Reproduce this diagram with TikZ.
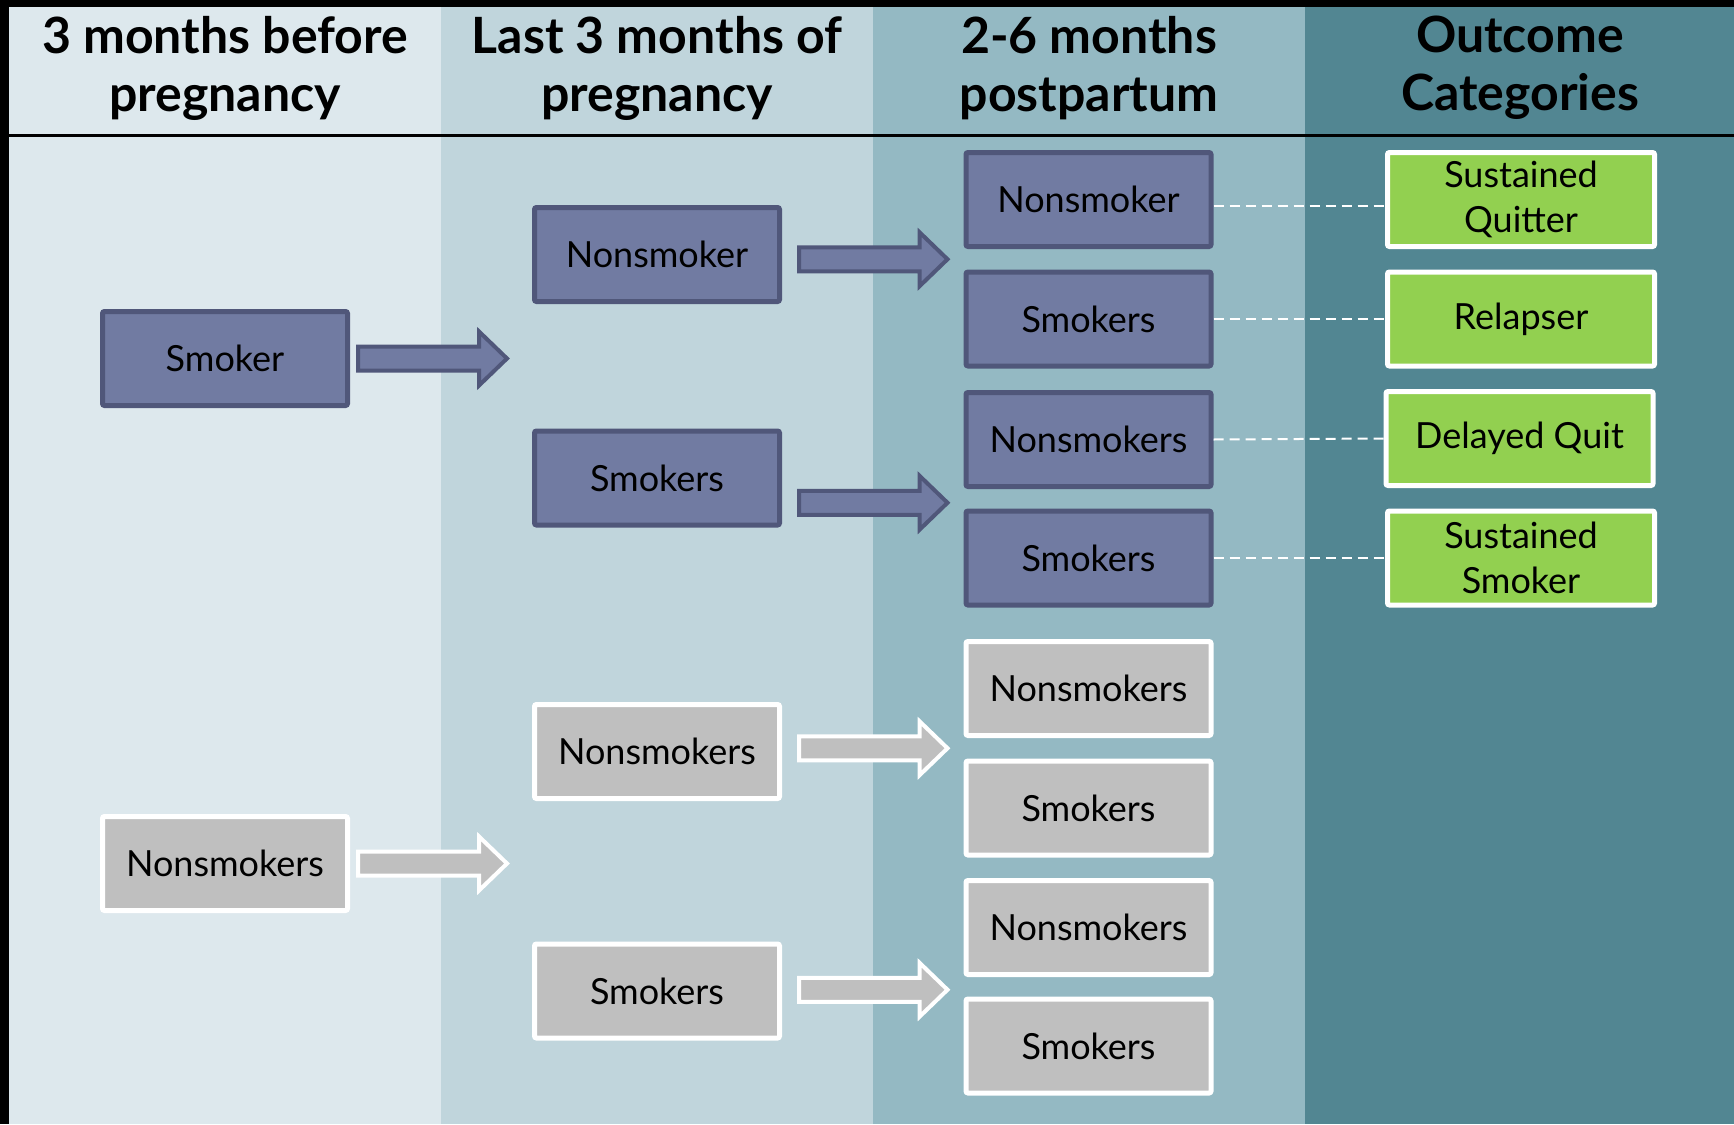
\documentclass[tikz,border=0pt]{standalone}
\usepackage{fontspec}
\setmainfont{Lato}
\usepackage{xcolor}
\usetikzlibrary{positioning,calc}

\definecolor{colone}{HTML}{DDE8ED}
\definecolor{coltwo}{HTML}{C0D5DC}
\definecolor{colthree}{HTML}{94B9C3}
\definecolor{colfour}{HTML}{528692}
\definecolor{darkfill}{HTML}{717BA2}
\definecolor{darkline}{HTML}{50577A}
\definecolor{greyfill}{HTML}{BFBFBF}
\definecolor{greenfill}{HTML}{92D050}

% block arrow from #2 to #3 (horizontal, height taken from #2)
\newcommand\fatarrow[3][darkarrow]{%
	\draw[#1] let \p1=#2, \p2=#3 in
		(\x1,\y1+12pt) -- (\x2-28pt,\y1+12pt) -- (\x2-28pt,\y1+27pt) -- (\x2,\y1)
		-- (\x2-28pt,\y1-27pt) -- (\x2-28pt,\y1-12pt) -- (\x1,\y1-12pt) -- cycle;}

\begin{document}
\begin{tikzpicture}[
		x=1pt, y=-1pt,
		headtext/.style={
			align=center,
			font=\fontsize{50}{58}\selectfont\bfseries
		},
		stagebox/.style={
			line width=5pt,
			rounded corners=2pt,
			align=center,
			minimum width=245pt,
			minimum height=94pt,
			inner sep=0pt,
			font=\fontsize{36}{45}\selectfont
		},
		smokerbox/.style={stagebox, draw=darkline, fill=darkfill},
		greybox/.style={stagebox, draw=white, fill=greyfill},
		outcomebox/.style={stagebox, draw=white, fill=greenfill, minimum width=267pt},
		darkarrow/.style={draw=darkline, fill=darkfill, line width=4pt, line join=miter},
		greyarrow/.style={draw=white, fill=greyfill, line width=4pt, line join=miter},
		dashline/.style={white, line width=2pt, dash pattern=on 10pt off 6pt}
	]
		\useasboundingbox (0,0) rectangle (1734,1124);

		% columns
		\fill[black] (0,0) rectangle (1734,1124);
		\fill[colone] (9,7) rectangle (441,1124);
		\fill[coltwo] (441,7) rectangle (873,1124);
		\fill[colthree] (873,7) rectangle (1305,1124);
		\fill[colfour] (1305,7) rectangle (1734,1124);
		\draw[black, line width=3pt] (9,135.5) -- (1734,135.5);

		\node[headtext] (headpre) at (225,68) {3 months before\\pregnancy};
		\node[headtext] (headlate) at (657,68) {Last 3 months of\\pregnancy};
		\node[headtext] (headpost) at (1089,68) {2-6 months\\postpartum};
		\node[headtext] (headout) at (1520,68) {Outcome\\Categories};

		% before pregnancy
		\node[smokerbox] (preSmoker) at (225,358.5) {Smoker};
		\node[greybox] (preNonsmoker) at (225,863.5) {Nonsmokers};

		% last 3 months
		\node[smokerbox] (lateNonsmoker) at (657,254.5) {Nonsmoker};
		\node[smokerbox] (lateSmoker) at (657,478) {Smokers};
		\node[greybox] (lateNonsmokerB) at (657,751.5) {Nonsmokers};
		\node[greybox] (lateSmokerB) at (657,991) {Smokers};

		% postpartum
		\node[smokerbox] (post1) at (1088.5,199.5) {Nonsmoker};
		\node[smokerbox] (post2) at (1088.5,319) {Smokers};
		\node[smokerbox] (post3) at (1088.5,439.5) {Nonsmokers};
		\node[smokerbox] (post4) at (1088.5,558) {Smokers};
		\node[greybox] (post5) at (1088.5,688.5) {Nonsmokers};
		\node[greybox] (post6) at (1088.5,808) {Smokers};
		\node[greybox] (post7) at (1088.5,927.5) {Nonsmokers};
		\node[greybox] (post8) at (1088.5,1046) {Smokers};

		% outcomes
		\node[outcomebox] (quitter) at (1521,199.5) {Sustained\\Quitter};
		\node[outcomebox] (relapser) at (1521,319) {Relapser};
		\node[outcomebox] (delayed) at (1519.5,438.5) {Delayed Quit};
		\node[outcomebox] (sustained) at (1521,558) {Sustained\\Smoker};

		\coordinate (gapA) at ($(post1.south west)!0.5!(post2.north west)$);
		\coordinate (gapB) at ($(post3.south west)!0.5!(post4.north west)+(0,4)$);
		\coordinate (gapC) at ($(post5.south west)!0.5!(post6.north west)$);
		\coordinate (gapD) at ($(post7.south west)!0.5!(post8.north west)+(0,3)$);

		\fatarrow{($(preSmoker.east)+(8,0)$)}{($(lateNonsmoker.west |- preSmoker.east)+(-25,0)$)}
		\fatarrow[greyarrow]{($(preNonsmoker.east)+(8,0)$)}{($(lateNonsmoker.west |- preNonsmoker.east)+(-25,0)$)}
		\fatarrow{($(lateNonsmoker.east |- gapA)+(17,0)$)}{($(gapA)+(-16,0)$)}
		\fatarrow{($(lateSmoker.east |- gapB)+(17,0)$)}{($(gapB)+(-16,0)$)}
		\fatarrow[greyarrow]{($(lateNonsmokerB.east |- gapC)+(17,0)$)}{($(gapC)+(-16,0)$)}
		\fatarrow[greyarrow]{($(lateSmokerB.east |- gapD)+(17,0)$)}{($(gapD)+(-16,0)$)}

		\draw[dashline] ([yshift=-6pt]post1.east) -- ([yshift=-6pt]quitter.west);
		\draw[dashline] (post2) -- (relapser);
		\draw[dashline] (post3.east) -- (delayed.west);
		\draw[dashline] (post4) -- (sustained);
	\end{tikzpicture}
\end{document}
